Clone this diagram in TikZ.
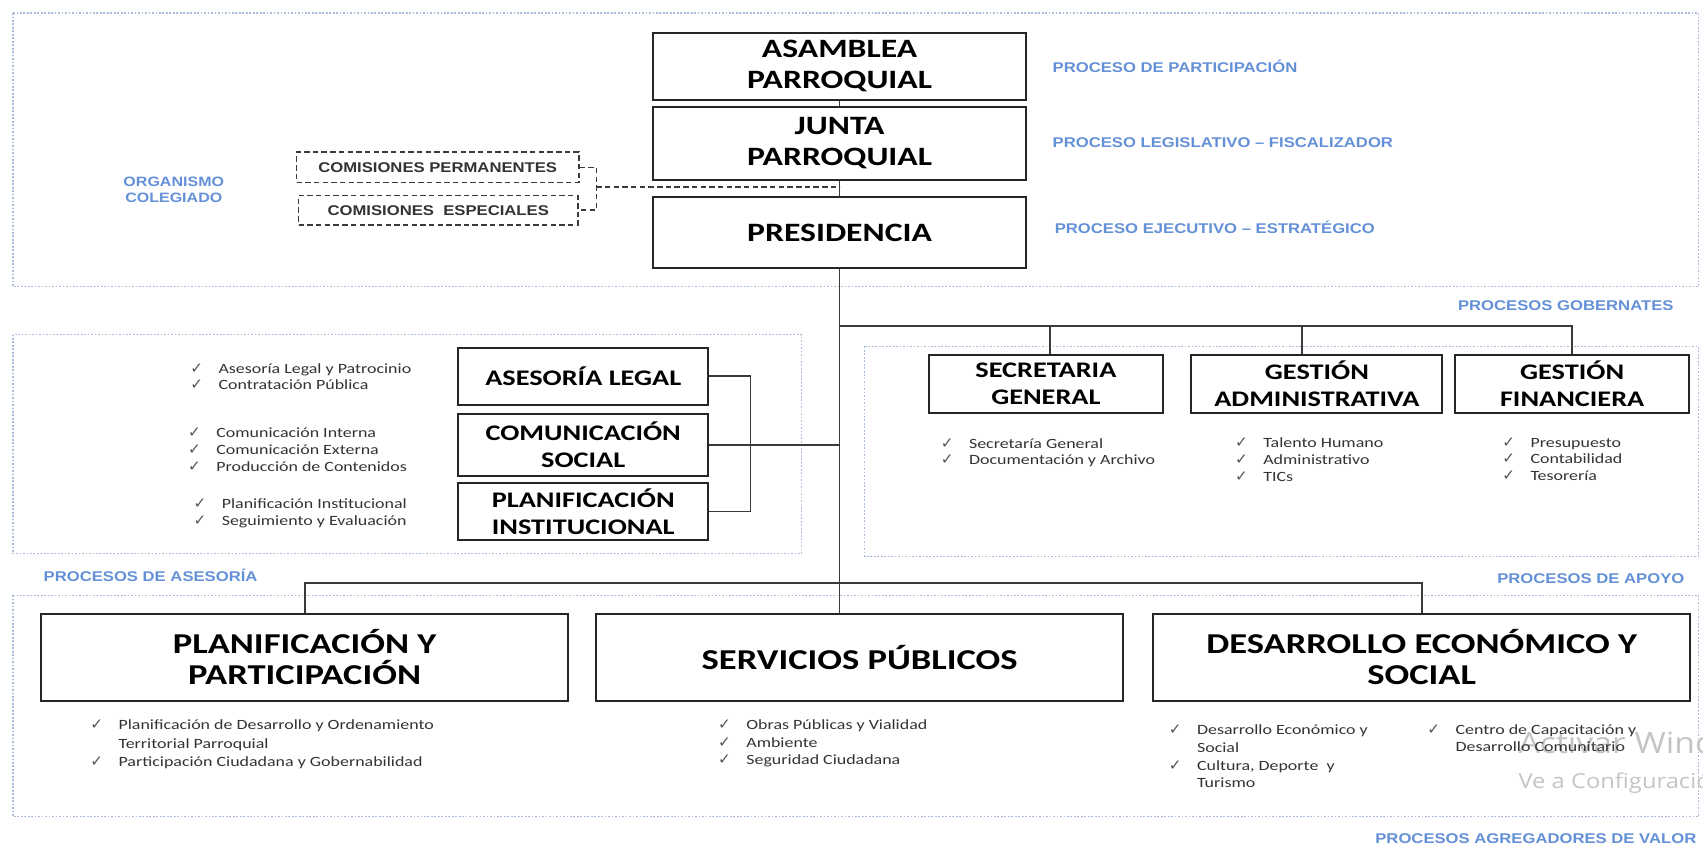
\documentclass[tikz,border=0pt]{standalone}
\usepackage{fontspec}
\setmainfont{Carlito}
\newfontfamily\boxf[FakeStretch=1.27]{Carlito}
\newfontfamily\bulf[FakeStretch=1.27]{Carlito}
\newfontfamily\lblf[FakeStretch=1.18]{Liberation Sans}
\newfontfamily\symf{DejaVu Sans}
\newfontfamily\wmf[FakeStretch=1.15]{Open Sans}
\definecolor{regcol}{HTML}{A9BDD9}
\definecolor{lblcol}{HTML}{6390D6}
\definecolor{boxcol}{HTML}{262626}
\definecolor{lincol}{HTML}{3A3A3A}
\definecolor{txtgray}{HTML}{333333}
\definecolor{chkcol}{HTML}{555555}
\definecolor{wmcol}{HTML}{C4C4C4}
\newcommand{\chk}{\makebox[26pt][l]{\textcolor{chkcol}{\symf\fontsize{14}{14}\selectfont ✓}}}
\newcommand{\blst}[2]{\bulf\fontsize{13}{#1}\selectfont\begin{tabular}[t]{@{}l@{}}#2\end{tabular}}
\tikzset{
  region/.style={draw=regcol, line width=1pt, dash pattern=on 1.6pt off 1.6pt},
  orgbox/.style={draw=boxcol, line width=1.8pt, fill=white, align=center, inner sep=0pt, text=black},
  topf/.style={font=\boxf\bfseries\fontsize{24.4}{28.5}\selectfont},
  midf/.style={font=\boxf\bfseries\fontsize{20.5}{24.5}\selectfont},
  botf/.style={font=\boxf\bfseries\fontsize{26.5}{29}\selectfont},
  conn/.style={draw=lincol, line width=1.6pt},
  dashc/.style={draw=lincol, line width=1.3pt, dash pattern=on 5pt off 3pt},
  combox/.style={draw=lincol, line width=1.3pt, dash pattern=on 5pt off 3pt, inner sep=0pt,
     font=\lblf\bfseries\fontsize{13}{15}\selectfont, text=txtgray},
  lbl/.style={inner sep=0pt, text=lblcol, font=\lblf\bfseries\fontsize{13}{15}\selectfont},
  blist/.style={inner sep=0pt, anchor=base west, text=txtgray},
  wm/.style={inner sep=0pt, anchor=base west, text=wmcol},
}
\begin{document}
\begin{tikzpicture}[x=1pt, y=-1pt]
\useasboundingbox (0,0) rectangle (1568,781);
\clip (0,0) rectangle (1568,781);
% regions
\draw[region] (12,12) rectangle (1564,264);
\draw[region] (12,308) rectangle (738,510);
\draw[region] (796,319) rectangle (1564,512);
\draw[region] (12,548) rectangle (1564,752);

% watermark (behind the lists)
\node[wm, font=\wmf\fontsize{27}{27}\selectfont] (wm1) at (1398,694) {Activar Windows};
\node[wm, font=\wmf\fontsize{19}{19}\selectfont] (wm2) at (1398,726) {Ve a Configuración para activar Windows.};

% top boxes
\node[orgbox, topf, minimum width=344pt, minimum height=62pt] (asam) at (773,61) {ASAMBLEA\\PARROQUIAL};
\node[orgbox, topf, minimum width=344pt, minimum height=67pt] (junta) at (773,132) {JUNTA\\PARROQUIAL};
\node[orgbox, topf, minimum width=344pt, minimum height=66pt] (pres) at (773,214) {PRESIDENCIA};

% commissions
\node[combox, minimum width=260pt, minimum height=28pt] (cp) at (403,154) {COMISIONES PERMANENTES};
\node[combox, minimum width=257pt, minimum height=27pt] (ce) at (403.5,193.5) {COMISIONES\ \ ESPECIALES};
\coordinate (dj) at (549,172);

% labels
\node[lbl, anchor=west] (l1) at (969,61) {PROCESO DE PARTICIPACIÓN};
\node[lbl, anchor=west] (l2) at (969,131) {PROCESO LEGISLATIVO – FISCALIZADOR};
\node[lbl, anchor=west] (l3) at (971,209) {PROCESO EJECUTIVO – ESTRATÉGICO};
\node[lbl, align=center, font=\lblf\bfseries\fontsize{12.5}{15}\selectfont] (org) at (160,175) {ORGANISMO\\COLEGIADO};
\node[lbl, anchor=east] (l4) at (1541,281) {PROCESOS GOBERNATES};
\node[lbl, anchor=west] (l5) at (40,530) {PROCESOS DE ASESORÍA};
\node[lbl, anchor=east] (l6) at (1551,533) {PROCESOS DE APOYO};
\node[lbl, anchor=east] (l7) at (1562,772) {PROCESOS AGREGADORES DE VALOR};

% advisory boxes
\node[orgbox, midf, minimum width=230pt, minimum height=53pt] (al) at (537,346.5) {ASESORÍA LEGAL};
\node[orgbox, midf, minimum width=230pt, minimum height=57pt] (cs) at (537,409.5) {COMUNICACIÓN\\SOCIAL};
\node[orgbox, midf, minimum width=230pt, minimum height=52pt] (pi) at (537,471) {PLANIFICACIÓN\\INSTITUCIONAL};
\coordinate (brk) at (691,400);

% support boxes
\node[orgbox, midf, minimum width=216pt, minimum height=53pt] (sec) at (963,353.5) {SECRETARIA\\GENERAL};
\node[orgbox, midf, minimum width=231pt, minimum height=53pt] (adm) at (1212.5,353.5) {GESTIÓN\\ADMINISTRATIVA};
\node[orgbox, midf, minimum width=215pt, minimum height=53pt] (fin) at (1447.5,353.5) {GESTIÓN\\FINANCIERA};
\coordinate (hj) at (773,300);
\coordinate (d1) at (967,300);
\coordinate (d2) at (1199,300);
\coordinate (d3) at (1447.5,300);

% value boxes
\node[orgbox, botf, minimum width=485pt, minimum height=80pt] (pp) at (280.5,605) {PLANIFICACIÓN Y\\PARTICIPACIÓN};
\node[orgbox, botf, minimum width=485pt, minimum height=80pt] (sp) at (791.5,605) {SERVICIOS PÚBLICOS};
\node[orgbox, botf, minimum width=494pt, minimum height=80pt] (de) at (1309,605) {DESARROLLO ECONÓMICO Y\\SOCIAL};
\coordinate (hb) at (773,537);

% connectors
\draw[conn] (asam.south) -- (junta.north);
\draw[conn] (junta.south) -- (pres.north);
\draw[conn] (pres.south) -- (pres.south |- sp.north);
\draw[conn] (hj) -- (d3) -- (fin.north);
\draw[conn] (d1) -- (d1 |- sec.north);
\draw[conn] (d2) -- (d2 |- adm.north);
\draw[conn] (al.east) -- (al.east -| brk) -- (pi.east -| brk) -- (pi.east);
\draw[conn] (cs.east) -- (cs.east -| pres.south);
\draw[conn] (pp.north) -- (pp.north |- hb) -- (de.north |- hb) -- (de.north);
\draw[dashc] (cp.east) -| (dj) |- (ce.east);
\draw[dashc] (dj) -- (dj -| pres.north);

% bullet lists
\node[blist] (b1) at (175,344) {\blst{15}{\chk Asesoría Legal y Patrocinio\\ \chk Contratación Pública}};
\node[blist] (b2) at (173,403) {\blst{15.5}{\chk Comunicación Interna\\ \chk Comunicación Externa\\ \chk Producción de Contenidos}};
\node[blist] (b3) at (178,468) {\blst{16}{\chk Planificación Institucional\\ \chk Seguimiento y Evaluación}};
\node[blist] (b4) at (866,413) {\blst{15}{\chk Secretaría General\\ \chk Documentación y Archivo}};
\node[blist] (b5) at (1137,412) {\blst{15.5}{\chk Talento Humano\\ \chk Administrativo\\ \chk TICs}};
\node[blist] (b6) at (1383,412) {\blst{15}{\chk Presupuesto\\ \chk Contabilidad\\ \chk Tesorería}};
\node[blist] (b7) at (83,672) {\blst{17}{\chk Planificación de Desarrollo y Ordenamiento\\ \hspace*{26pt}Territorial Parroquial\\ \chk Participación Ciudadana y Gobernabilidad}};
\node[blist] (b8) at (661,672) {\blst{16}{\chk Obras Públicas y Vialidad\\ \chk Ambiente\\ \chk Seguridad Ciudadana}};
\node[blist] (b9) at (1076,676) {\blst{16.5}{\chk Desarrollo Económico y\\ \hspace*{26pt}Social\\ \chk Cultura, Deporte\ \ y\\ \hspace*{26pt}Turismo}};
\node[blist] (b10) at (1314,676) {\blst{16}{\chk Centro de Capacitación y\\ \hspace*{26pt}Desarrollo Comunitario}};
\end{tikzpicture}
\end{document}
